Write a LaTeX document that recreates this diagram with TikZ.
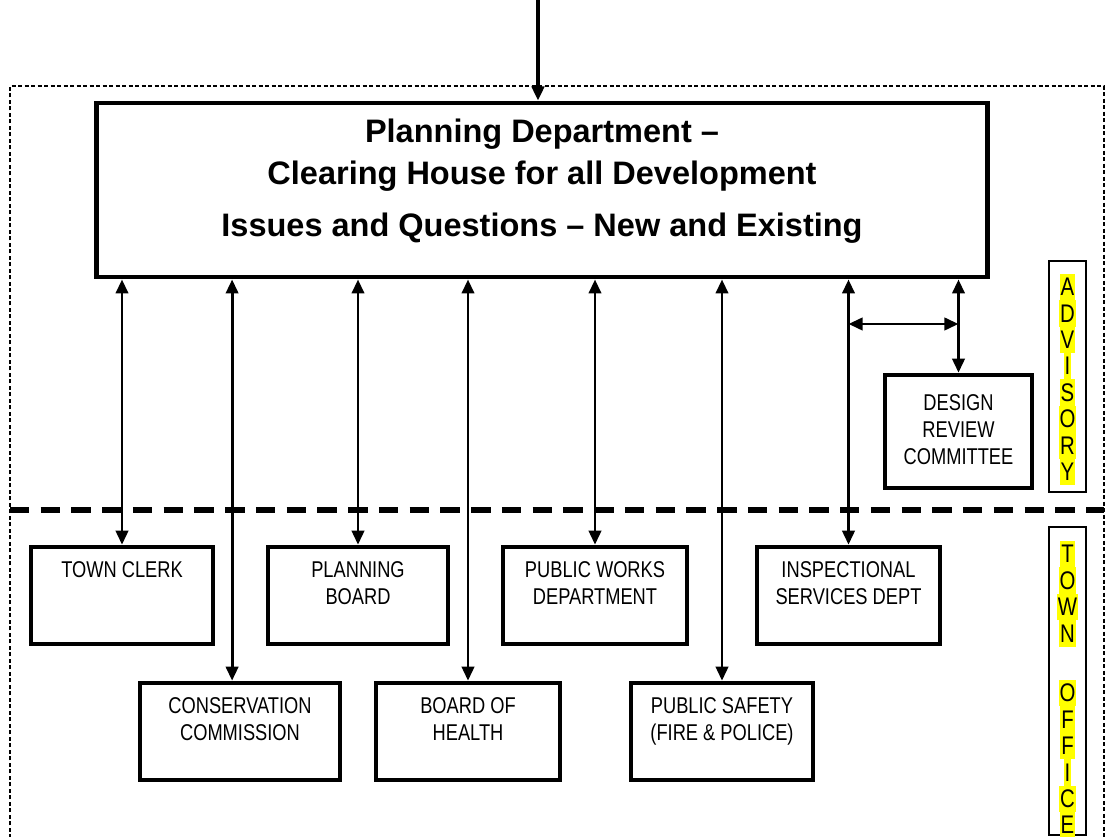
\documentclass[tikz,border=0pt]{standalone}
\usepackage{fontspec}
\setmainfont{Liberation Sans}
\newfontfamily\narrowsans{Liberation Sans}[FakeStretch=0.8]
\usepackage{tikz}
\usetikzlibrary{positioning,arrows.meta}
\definecolor{markyellow}{RGB}{255,255,0}

\begin{document}
\begin{tikzpicture}[x=.02cm,y=-.02cm,
    unit/.style={draw,line width=2.6pt,minimum height=1.94cm,inner sep=0pt},
    tag/.style={anchor=north,yshift=-9.5pt,inner sep=0pt,align=center,
      font=\narrowsans\fontsize{13}{15.3}\selectfont},
    headline/.style={anchor=north,yshift=-10.2pt,inner sep=0pt,align=center,
      font=\bfseries\fontsize{18.5}{24}\selectfont},
    link/.style={line width=1.7pt,{Triangle[length=8pt,width=7pt]}-{Triangle[length=8pt,width=7pt]}},
    side/.style={draw,line width=1pt,minimum width=.74cm,inner sep=0pt},
    hl/.style={fill=markyellow,inner xsep=.6pt,inner ysep=0pt,minimum height=.528cm,
      font=\narrowsans\fontsize{14.5}{15}\selectfont}]
    \clip (0,0) rectangle (1107,837);
    % frame and divider
    \draw[line width=1.1pt,dash pattern=on 2.4pt off 1.3pt] (10,845)--(10,86)--(1104,86)--(1104,845);
    \draw[line width=3.4pt,dash pattern=on 11pt off 6.5pt] (10,510)--(1104,510);
    \node[draw,line width=2.8pt,minimum width=17.84cm,minimum height=3.48cm,
      label={[headline]north:{Planning Department --\\Clearing House for all Development\\[5.5pt]Issues and Questions -- New and Existing}}]
      (main) at (542,190) {};
    \coordinate (src) at (538,0);
    \draw[line width=2.3pt,-{Triangle[length=8pt,width=7pt]}] (src)--(src |- main.north);
    % town offices
    \node[unit,minimum width=3.64cm,label={[tag]north:TOWN CLERK}] (clerk) at (122,595.5) {};
    \node[unit,minimum width=3.6cm,label={[tag]north:{PLANNING\\BOARD}}] (pboard) at (358,595.5) {};
    \node[unit,minimum width=3.68cm,label={[tag]north:{PUBLIC WORKS\\DEPARTMENT}}] (pworks) at (595,595.5) {};
    \node[unit,minimum width=3.66cm,label={[tag]north:{INSPECTIONAL\\SERVICES DEPT}}] (insp) at (848.5,595.5) {};
    \node[unit,minimum width=4cm,label={[tag]north:{CONSERVATION\\COMMISSION}}] (conserv) at (240,731.5) {};
    \node[unit,minimum width=3.68cm,label={[tag]north:{BOARD OF\\HEALTH}}] (health) at (468,731.5) {};
    \node[unit,minimum width=3.64cm,label={[tag]north:{PUBLIC SAFETY\\(FIRE \& POLICE)}}] (safety) at (722,731.5) {};
    \node[unit,minimum width=2.94cm,minimum height=2.26cm,label={[tag,yshift=-3pt]north:{DESIGN\\REVIEW\\COMMITTEE}}] (design) at (958.5,431.5) {};
    \foreach \n in {clerk,pboard,pworks,insp,health,safety,design}
      \draw[link] (main.south -| \n.north)--(\n.north);
    \coordinate (cfoot) at ([xshift=-4.5pt]conserv.north);
    \draw[link] (main.south -| cfoot)--(cfoot);
    \coordinate (cross) at (0,324);
    \draw[link] (insp.north |- cross)--(design.north |- cross);
    % side bars
    \node[side,minimum height=4.62cm] (advisory) at (1067.5,376.5) {};
    \node[side,minimum height=6.16cm] (townoff) at (1067.5,681) {};
    \foreach \ch [count=\i from 0] in {A,D,V,I,S,O,R,Y}
      \node[hl] at (1067.5,287+26.4*\i) {\ch};
    \foreach \ch/\y in {T/554,O/580.5,W/607,N/633.5,O/693,F/719.5,F/746,I/772.5,C/799,E/825}
      \node[hl] at (1067.5,\y) {\ch};
\end{tikzpicture}
\end{document}
